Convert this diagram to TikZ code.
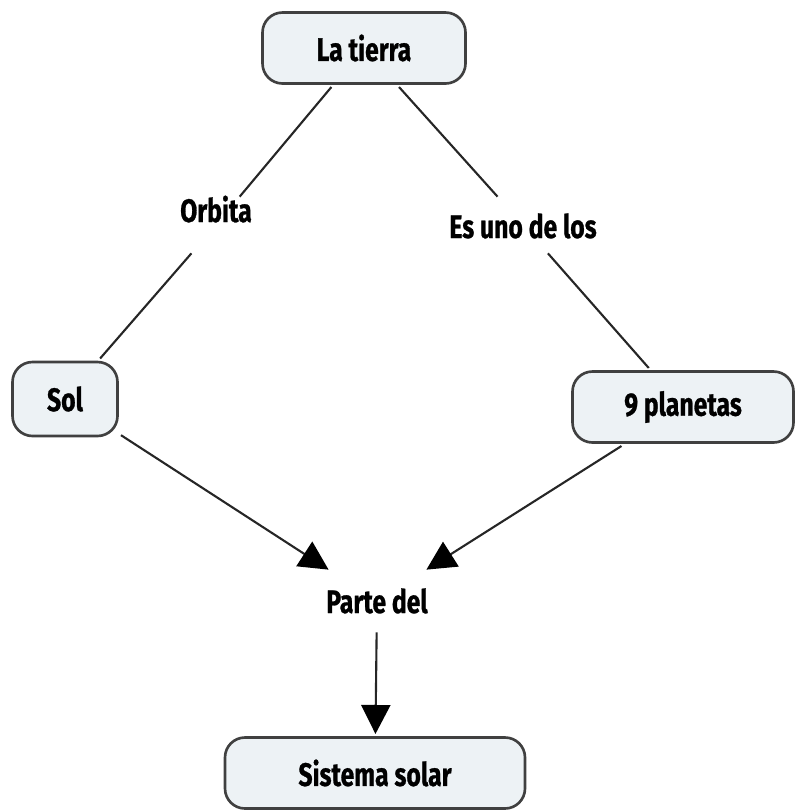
\documentclass[tikz,border=0pt]{standalone}
\usepackage{fontspec}
\setmainfont{Fira Sans}[FakeStretch=0.76, FakeBold=0.8]
\usetikzlibrary{arrows.meta}
\definecolor{boxfill}{HTML}{EDF2F5}
\definecolor{boxline}{HTML}{404040}

\begin{document}
\begin{tikzpicture}[x=1cm,y=1cm, every node/.style={align=center, font=\fontsize{18.5}{22}\selectfont\bfseries},
  concept/.style={draw=boxline, line width=1.5pt, fill=boxfill, rounded corners=0.4cm, minimum height=1.42cm, outer sep=2pt},
  linklabel/.style={inner xsep=3pt, inner ysep=0pt, anchor=base},
  link/.style={draw=black!85, line width=1.2pt},
  arrowlink/.style={link, -{Triangle[length=0.58cm,width=0.58cm,color=black]}}]
  \useasboundingbox (0,0) rectangle (15.9,-16.22);
  \node[concept, minimum width=4.06cm] (tierra) at (7.28,-0.96) {La tierra};
  \node[concept, minimum width=2.1cm, minimum height=1.48cm] (sol) at (1.30,-7.98) {Sol};
  \node[concept, minimum width=4.42cm] (planetas) at (13.66,-8.14) {9 planetas};
  \node[concept, minimum width=6.0cm] (sistema) at (7.5,-15.46) {Sistema solar};
  \node[linklabel, text height=0.5cm, text depth=0.62cm] (orbita) at (4.32,-4.44) {Orbita};
  \node[linklabel, text height=0.82cm, text depth=0.3cm] (esuno) at (10.46,-4.76) {Es uno de los};
  \node[linklabel, text height=0.86cm, text depth=0.38cm] (parte) at (7.54,-12.26) {Parte del};
  \draw[link] (tierra) -- (orbita);
  \draw[link] (orbita) -- (sol);
  \draw[link] (tierra) -- (esuno);
  \draw[link] (esuno) -- (planetas);
  \draw[arrowlink] (sol) -- (parte);
  \draw[arrowlink] (planetas) -- (parte);
  \draw[arrowlink] (parte) -- (sistema);
\end{tikzpicture}
\end{document}
